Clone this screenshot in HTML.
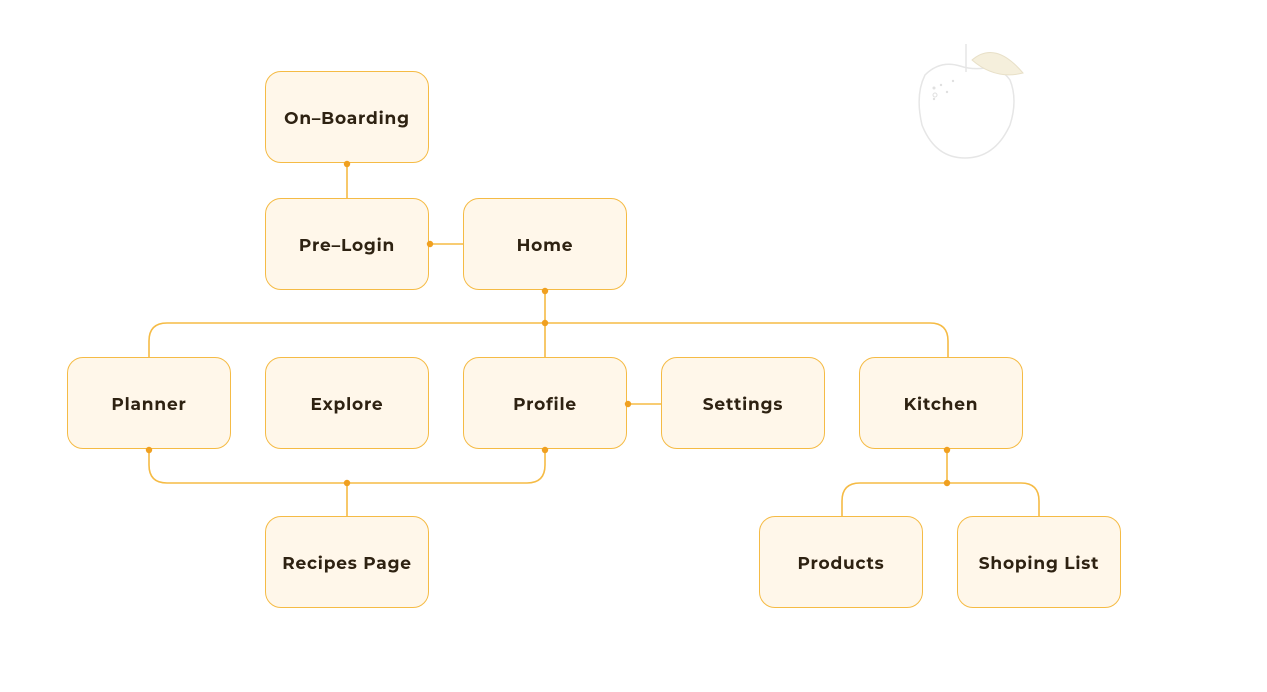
<!DOCTYPE html>
<html><head><style>
body{margin:0;width:1267px;height:692px;background:#fff;overflow:hidden;position:relative;font-family:"Montserrat","Liberation Sans",sans-serif}
.n{position:absolute;width:162px;height:90px;border:1.5px solid #f5bb45;border-radius:16px;background:#fff7ea;display:flex;align-items:center;justify-content:center;font-weight:bold;font-size:17px;color:#2e2212;letter-spacing:0.8px;padding-top:3px;box-sizing:content-box;height:87px}
svg{position:absolute;left:0;top:0;z-index:2}
</style></head><body>
<div class="n" style="left:265px;top:71px">On–Boarding</div>
<div class="n" style="left:265px;top:198px">Pre–Login</div>
<div class="n" style="left:463px;top:198px">Home</div>
<div class="n" style="left:67px;top:357px">Planner</div>
<div class="n" style="left:265px;top:357px">Explore</div>
<div class="n" style="left:463px;top:357px">Profile</div>
<div class="n" style="left:661px;top:357px">Settings</div>
<div class="n" style="left:859px;top:357px">Kitchen</div>
<div class="n" style="left:265px;top:516px">Recipes Page</div>
<div class="n" style="left:759px;top:516px">Products</div>
<div class="n" style="left:957px;top:516px">Shoping List</div>
<svg width="1267" height="692">
<g fill="none" stroke="#f5bb45" stroke-width="1.6">
<path d="M347 164V198"/>
<path d="M430 244H463"/>
<path d="M545 291V357"/>
<path d="M149 357V341Q149 323 167 323H930Q948 323 948 341V357"/>
<path d="M628 404H661"/>
<path d="M149 450V465Q149 483 167 483H527Q545 483 545 465V450"/>
<path d="M347 483V516"/>
<path d="M947 450V483"/>
<path d="M842 516V501Q842 483 860 483H1021Q1039 483 1039 501V516"/>
</g>
<g fill="#f0a020">
<circle cx="347" cy="164" r="3.2"/><circle cx="430" cy="244" r="3.2"/><circle cx="545" cy="291" r="3.2"/><circle cx="545" cy="323" r="3.2"/><circle cx="628" cy="404" r="3.2"/><circle cx="149" cy="450" r="3.2"/><circle cx="545" cy="450" r="3.2"/><circle cx="347" cy="483" r="3.2"/><circle cx="947" cy="450" r="3.2"/><circle cx="947" cy="483" r="3.2"/>
</g>
<g fill="none" stroke="#e6e6e6" stroke-width="1.5">
<path d="M966 44V72"/>
<path d="M960 66Q940 60 925 75Q915 95 922 125Q935 158 965 158Q995 158 1010 125Q1018 100 1010 80Q1000 66 985 68Q972 70 960 66Z"/>
</g>
<path d="M972 60Q995 40 1023 73Q995 80 972 60Z" fill="#f5efdc" stroke="#e8e0c8"/>
<g fill="#e0e0e0"><circle cx="934" cy="88" r="1.5"/><circle cx="941" cy="85" r="1.2"/><circle cx="953" cy="81" r="1.2"/><circle cx="935" cy="95" r="2" fill="none" stroke="#e0e0e0"/><circle cx="947" cy="92" r="1.2"/><circle cx="934" cy="99" r="1.2"/></g>
</svg>
</body></html>
